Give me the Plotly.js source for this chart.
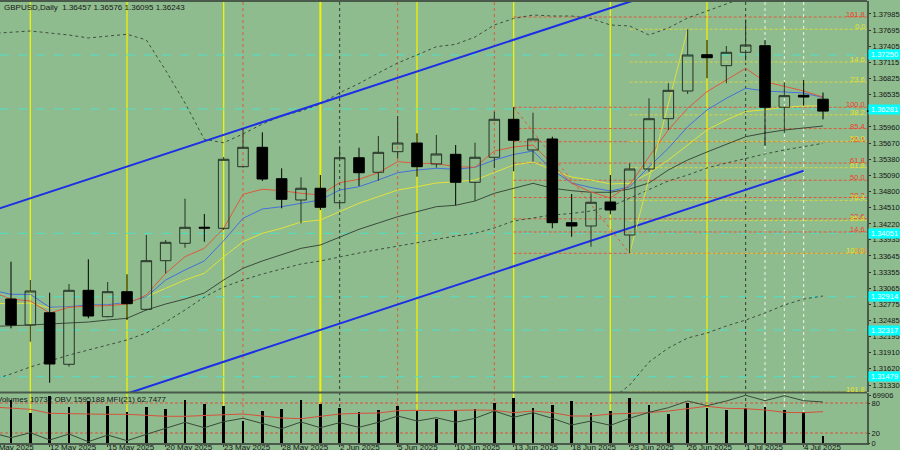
<!DOCTYPE html>
<html><head><meta charset="utf-8">
<script src="https://cdn.plot.ly/plotly-3.0.1.min.js"></script>
<style>html,body{margin:0;padding:0;background:#8fbc8f;}#chart{width:900px;height:450px;}</style>
</head><body><div id="chart"></div>
<script>
// ---------------- DATA ----------------
const symbol = 'GBPUSD';
const timeframe = 'Daily';
const categories = ['2025-05-07','2025-05-08','2025-05-09','2025-05-12','2025-05-13','2025-05-14','2025-05-15','2025-05-16','2025-05-19','2025-05-20','2025-05-21','2025-05-22','2025-05-23','2025-05-26','2025-05-27','2025-05-28','2025-05-29','2025-05-30','2025-06-02','2025-06-03','2025-06-04','2025-06-05','2025-06-06','2025-06-09','2025-06-10','2025-06-11','2025-06-12','2025-06-13','2025-06-16','2025-06-17','2025-06-18','2025-06-19','2025-06-20','2025-06-23','2025-06-24','2025-06-25','2025-06-26','2025-06-27','2025-06-30','2025-07-01','2025-07-02','2025-07-03','2025-07-04','2025-07-07'];
const openP  = [null,1.32873,1.32407,1.32627,1.31702,1.33029,1.32556,1.33004,1.32688,1.33560,1.33872,1.34160,1.34141,1.35246,1.35594,1.35031,1.34649,1.34859,1.34600,1.35407,1.35146,1.35515,1.35671,1.35294,1.35468,1.34966,1.35415,1.36096,1.35546,1.35743,1.34242,1.34182,1.34613,1.34021,1.35205,1.36107,1.36604,1.37255,1.37058,1.37298,1.37416,1.36312,1.36527,1.36457];
const highP  = [null,1.33542,1.33214,1.32986,1.33142,1.33585,1.33178,1.33316,1.34021,1.33931,1.34672,1.34398,1.35420,1.35935,1.35863,1.35217,1.35056,1.35097,1.35587,1.35587,1.35797,1.36155,1.35845,1.35815,1.35635,1.35677,1.36233,1.36312,1.36215,1.35784,1.34756,1.34769,1.35097,1.35307,1.36473,1.36742,1.37711,1.37519,1.37411,1.37885,1.37519,1.36760,1.36801,1.36576];
const lowP   = [null,1.32347,1.32107,1.31372,1.31659,1.32527,1.32545,1.32496,1.32670,1.33334,1.33793,1.33901,1.34111,1.35230,1.34990,1.34500,1.34231,1.34469,1.34529,1.34900,1.34995,1.35397,1.35067,1.35228,1.34554,1.34636,1.35223,1.35164,1.35336,1.34141,1.33990,1.33811,1.34392,1.33693,1.35156,1.35904,1.36550,1.36832,1.36742,1.37150,1.35623,1.35856,1.36340,1.36095];
const closeP = [null,1.32407,1.33017,1.31707,1.33029,1.32568,1.33004,1.32789,1.33560,1.33890,1.34159,1.34145,1.35379,1.35594,1.35025,1.34661,1.34859,1.34518,1.35407,1.35138,1.35504,1.35671,1.35246,1.35474,1.34966,1.35415,1.36096,1.35720,1.35743,1.34242,1.34182,1.34608,1.34469,1.35205,1.36107,1.36616,1.37250,1.37201,1.37298,1.37429,1.36312,1.36520,1.36496,1.36243];

const maRed    = [1.32999,1.32873,1.32837,1.32622,1.32724,1.32747,1.32753,1.32783,1.32945,1.33334,1.33632,1.33782,1.34141,1.34751,1.34841,1.34816,1.34769,1.34738,1.34959,1.35020,1.35138,1.35336,1.35307,1.35303,1.35246,1.35235,1.35528,1.35599,1.35635,1.35294,1.34948,1.34792,1.34685,1.34918,1.35425,1.35904,1.36294,1.36591,1.36801,1.37011,1.36771,1.36693,1.36604,1.36495];
const maBlue   = [1.33034,1.32957,1.32957,1.32724,1.32735,1.32765,1.32771,1.32814,1.32914,1.33214,1.33393,1.33555,1.33919,1.34320,1.34487,1.34529,1.34590,1.34649,1.34828,1.34887,1.35007,1.35138,1.35187,1.35217,1.35199,1.35235,1.35366,1.35465,1.35528,1.35187,1.34954,1.34873,1.34810,1.34882,1.35246,1.35576,1.35964,1.36263,1.36473,1.36652,1.36604,1.36591,1.36568,1.36488];
const maYellow = [1.32801,1.32783,1.32801,1.32712,1.32729,1.32747,1.32765,1.32819,1.32914,1.33065,1.33214,1.33334,1.33632,1.33901,1.34051,1.34141,1.34254,1.34290,1.34439,1.34590,1.34708,1.34828,1.34887,1.34954,1.34977,1.35007,1.35142,1.35277,1.35330,1.35187,1.35061,1.35007,1.34936,1.34948,1.35128,1.35366,1.35635,1.35904,1.36084,1.36236,1.36268,1.36311,1.36335,1.36335];
const maGray   = [1.32380,1.32389,1.32407,1.32425,1.32442,1.32460,1.32496,1.32527,1.32676,1.32783,1.32873,1.32981,1.33214,1.33424,1.33555,1.33662,1.33782,1.33842,1.33980,1.34123,1.34236,1.34349,1.34439,1.34529,1.34554,1.34631,1.34769,1.34859,1.34948,1.34859,1.34816,1.34787,1.34787,1.34846,1.34954,1.35187,1.35366,1.35510,1.35653,1.35784,1.35850,1.35904,1.35940,1.35976];
const maLong   = [1.31420,1.31528,1.31653,1.31761,1.31868,1.31958,1.32048,1.32138,1.32263,1.32460,1.32676,1.32909,1.33088,1.33214,1.33321,1.33411,1.33501,1.33555,1.33632,1.33698,1.33761,1.33824,1.33886,1.33949,1.34003,1.34051,1.34147,1.34272,1.34326,1.34380,1.34407,1.34451,1.34529,1.34679,1.34828,1.34990,1.35097,1.35223,1.35312,1.35397,1.35474,1.35546,1.35608,1.35666];
const bandUpper = [1.37635,1.37653,1.37680,1.37644,1.37608,1.37555,1.37590,1.37621,1.37519,1.36973,1.36389,1.35737,1.35676,1.35833,1.36012,1.36155,1.36245,1.36371,1.36573,1.36738,1.36927,1.37106,1.37250,1.37398,1.37441,1.37572,1.37788,1.37904,1.37967,1.37949,1.37949,1.37904,1.37788,1.37770,1.37608,1.37734,1.37913,1.38039,1.38164,1.38290,1.38380,1.38416,1.38451,1.38469];
const bandLower = [null,null,null,null,null,null,null,null,null,null,null,null,null,null,null,null,null,null,null,null,null,null,null,null,null,null,null,null,null,null,null,null,1.31061,1.31330,1.31743,1.31994,1.32173,1.32263,1.32389,1.32496,1.32622,1.32765,1.32873,1.32927];

const volumes = [null,63550,44340,69906,53200,62070,54680,45810,53200,50250,63550,57640,54680,32510,47290,50250,63550,57640,51730,45810,48770,54680,47290,35470,48770,50250,59120,66510,51730,56160,62070,44340,47290,66510,56160,42860,59120,51730,48770,51730,53200,48770,45810,10732];
const obv = [1318900,1273900,1318900,1253200,1307200,1237900,1298200,1246900,1304500,1358500,1412500,1363900,1417900,1448500,1403500,1354900,1415200,1363900,1408900,1367500,1412500,1469200,1424200,1453900,1412500,1448500,1514200,1457500,1498900,1448500,1388200,1424200,1385500,1448500,1502500,1543900,1604200,1561900,1604200,1655500,1606900,1651900,1606900,1595188];
const mfi = [72,70,67.4,59.4,58,58,57.4,57.4,55.4,53.4,53.4,54.6,56,58,54,50,48.6,54,58,59.4,60,64.6,65.4,64.6,66,66,65.4,60.6,64,60.6,54,54,58,59.4,60.6,64,68.6,73.4,69.4,68.6,66,61.4,60.6,62.7477];
const mfiPeriod = 21;
const mfiLevels = [20, 80];

const tickDates  = ['2025-05-07','2025-05-12','2025-05-15','2025-05-20','2025-05-23','2025-05-28','2025-06-02','2025-06-05','2025-06-10','2025-06-13','2025-06-18','2025-06-23','2025-06-26','2025-07-01','2025-07-04'];
const tickLabels = ['7 May 2025','12 May 2025','15 May 2025','20 May 2025','23 May 2025','28 May 2025','2 Jun 2025','5 Jun 2025','10 Jun 2025','13 Jun 2025','18 Jun 2025','23 Jun 2025','26 Jun 2025','1 Jul 2025','4 Jul 2025'];
const priceTicks = [1.37985,1.37695,1.37405,1.37115,1.36825,1.36535,1.35960,1.35670,1.35380,1.35090,1.34800,1.34510,1.34220,1.33935,1.33645,1.33355,1.33065,1.32775,1.32485,1.32195,1.31910,1.31620,1.31330];
const volumeMaxLabel = 69906;

const cyanLevels = [1.37250,1.36281,1.34051,1.32914,1.32317,1.31479];
const channelUpperDates = ['2025-05-07','2025-06-26'];
const channelUpperPrices = [1.34453,1.38545];
const channelLowerDates = ['2025-05-16','2025-07-04'];
const channelLowerPrices = [1.31176,1.35174];

const fibLevels = [0,14.6,23.6,38.2,50,61.8,76.4,85.4,100,161.8];
const redFibHighDate = '2025-06-13', redFibLowDate = '2025-06-23';
const yellowFibLowDate = '2025-06-23', yellowFibHighDate = '2025-06-26';

const fridayLines = ['2025-05-09','2025-05-16','2025-05-23','2025-05-30','2025-06-06','2025-06-13','2025-06-20','2025-06-27'];
const redVLines   = ['2025-05-26','2025-06-05','2025-06-12'];
const darkVLines  = ['2025-06-02','2025-07-01'];
const whiteVLines = ['2025-07-02','2025-07-03','2025-07-04'];

// ---------------- CHART ----------------
const BG = '#8fbc8f';
const AX = '#4a5a4a';
const TXT = '#151515';
const idx = d => categories.indexOf(d);
const last = categories.length - 1;
const mainRange = [1.31205, 1.38218];
const xRange = [0.431, 45.276];
const fmt = v => v.toFixed(5);

const redHi = highP[idx(redFibHighDate)], redLo = lowP[idx(redFibLowDate)];
const yelLo = lowP[idx(yellowFibLowDate)], yelHi = highP[idx(yellowFibHighDate)];

const line = (y, color, dash, width, yaxis) => ({
  type:'scatter', mode:'lines', x:categories, y:y, yaxis:yaxis||'y',
  line:{color:color, width:width||1, dash:dash||'solid'}, hoverinfo:'skip', connectgaps:false
});

const traces = [
  line(bandUpper, '#3e4e3e', 'dot', 1),
  line(bandLower, '#3e4e3e', 'dot', 1),
  line(maLong, '#3e4e3e', 'dot', 1),
  line(maGray, '#3a4a3a', 'solid', 1),
  line(maYellow, '#e2e23c', 'solid', 1),
  line(maBlue, '#4470dc', 'solid', 1),
  line(maRed, '#dc5a3c', 'solid', 1),
  {type:'scatter', mode:'lines', x:channelUpperDates, y:channelUpperPrices, line:{color:'#1c2ee6', width:2}, hoverinfo:'skip'},
  {type:'scatter', mode:'lines', x:channelLowerDates, y:channelLowerPrices, line:{color:'#1c2ee6', width:2}, hoverinfo:'skip'},
  {type:'scatter', mode:'lines', x:[redFibHighDate, redFibLowDate], y:[redHi, redLo], line:{color:'#dc5a3c', width:1, dash:'dot'}, hoverinfo:'skip'},
  {type:'scatter', mode:'lines', x:[yellowFibLowDate, yellowFibHighDate], y:[yelLo, yelHi], line:{color:'#dede40', width:1}, hoverinfo:'skip'},
  {type:'candlestick', x:categories, open:openP, high:highP, low:lowP, close:closeP, yaxis:'y3',
   increasing:{line:{color:'#263326', width:1}, fillcolor:'rgba(0,0,0,0)'},
   decreasing:{line:{color:'#000000', width:1}, fillcolor:'#000000'},
   whiskerwidth:0, hoverinfo:'skip'},
  {type:'bar', x:categories, y:volumes, yaxis:'y2', marker:{color:'#000000', line:{width:0}}, width:0.13, hoverinfo:'skip'},
  {type:'scatter', mode:'lines', x:categories, y:mfi, yaxis:'y4', line:{color:'#d8503a', width:1}, hoverinfo:'skip'},
  {type:'scatter', mode:'lines', x:categories, y:obv, yaxis:'y5', line:{color:'#3a4a3a', width:1}, hoverinfo:'skip'}
];

const shapes = [];
const vline = (d, color, width, dash) => shapes.push({type:'line', xref:'x', yref:'paper', x0:idx(d), x1:idx(d), y0:0, y1:1, layer:'below', line:{color:color, width:width, dash:dash}});
fridayLines.forEach(d => vline(d, '#f2f200', d === '2025-05-30' ? 2 : 1.3, 'solid'));
redVLines.forEach(d => vline(d, '#dc5a3c', 1, 'dot'));
darkVLines.forEach(d => vline(d, '#333833', 1, 'dot'));
whiteVLines.forEach(d => vline(d, '#eef4ee', 1, 'dot'));

cyanLevels.forEach(v => shapes.push({type:'line', xref:'paper', yref:'y', x0:0, x1:1, y0:v, y1:v, layer:'below', line:{color:'#4fe0c8', width:1, dash:'dash'}}));

const annotations = [];
fibLevels.forEach(l => {
  const y = redLo + l/100*(redHi - redLo);
  shapes.push({type:'line', xref:'x', yref:'y', x0:idx(redFibHighDate), x1:60, y0:y, y1:y, layer:'below', line:{color:'#dc5a3c', width:1, dash:'3px,2px'}});
  annotations.push({xref:'paper', yref:'y', x:1, y:y, xanchor:'right', yanchor:'middle', yshift:2.5, xshift:-1, text:l.toFixed(1), showarrow:false, borderpad:0, font:{size:7.5, color:'#f03c2a'}});
});
fibLevels.forEach(l => {
  const y = yelHi - l/100*(yelHi - yelLo);
  shapes.push({type:'line', xref:'x', yref:'y', x0:idx(yellowFibLowDate), x1:60, y0:y, y1:y, layer:'below', line:{color:'#d6d640', width:1, dash:'3px,2px'}});
  annotations.push({xref:'paper', yref:'y', x:1, y:y, xanchor:'right', yanchor:'middle', yshift:2.5, xshift:-1, text:l.toFixed(1), showarrow:false, borderpad:0, font:{size:7.5, color:'#e4e42a'}});
});
mfiLevels.forEach(v => shapes.push({type:'line', xref:'paper', yref:'y4', x0:0, x1:1, y0:v, y1:v, layer:'below', line:{color:'#d8503a', width:1, dash:'3px,2px'}}));

// borders
shapes.push({type:'line', xref:'paper', yref:'paper', x0:0, x1:1, y0:1, y1:1, line:{color:AX, width:2}});
shapes.push({type:'line', xref:'paper', yref:'paper', x0:0, x1:1, y0:0.1143, y1:0.1143, line:{color:AX, width:2}});
// bid marker on axis
shapes.push({type:'line', xref:'paper', yref:'y', x0:1, x1:1.04, y0:closeP[last], y1:closeP[last], line:{color:'#000000', width:2}});

cyanLevels.forEach(v => annotations.push({xref:'paper', yref:'y', x:1, y:v, xanchor:'left', yanchor:'middle', xshift:1, text:fmt(v), showarrow:false, bgcolor:'#00ffff', width:31, borderpad:0, font:{size:7.5, color:'#ffffff'}}));

annotations.push({xref:'paper', yref:'paper', x:0, y:1, xanchor:'left', yanchor:'top', xshift:2, yshift:0,
  text:symbol + ',' + timeframe + '  ' + [openP[last], highP[last], lowP[last], closeP[last]].map(fmt).join(' '),
  showarrow:false, font:{size:8, color:TXT}});
annotations.push({xref:'paper', yref:'paper', x:0, y:0.113, xanchor:'left', yanchor:'top', xshift:-5, yshift:0,
  text:'Volumes ' + volumes[last] + ' OBV ' + obv[last] + ' MFI(' + mfiPeriod + ') ' + mfi[last].toFixed(4),
  showarrow:false, font:{size:8, color:TXT}});

// date labels, left-aligned at their bar like the terminal draws them
tickDates.forEach((d, k) => {
  const i = idx(d);
  const frac = (i - xRange[0]) / (xRange[1] - xRange[0]);
  annotations.push({xref:'paper', yref:'paper', x:frac, y:0, xanchor:'left', yanchor:'top', xshift:-1, yshift:1,
    borderpad:0, text:tickLabels[k], showarrow:false, font:{size:8, color:TXT}});
});

const layout = {
  width:900, height:450,
  margin:{l:0, r:33, t:1, b:7, pad:0},
  paper_bgcolor:BG, plot_bgcolor:BG,
  font:{family:'Liberation Sans, Arial, sans-serif', size:8, color:TXT},
  showlegend:false,
  boxgap:0.22, bargap:0,
  xaxis:{type:'category', range:xRange, anchor:'y2', tickmode:'array', tickvals:tickDates, showticklabels:false,
    ticks:'outside', ticklen:2, tickcolor:'#333',
    showline:true, linecolor:AX, linewidth:2, showgrid:false, zeroline:false, fixedrange:true, rangeslider:{visible:false}},
  yaxis:{domain:[0.11538, 1], range:mainRange, side:'right', anchor:'x', tickmode:'array', tickvals:priceTicks, ticktext:priceTicks.map(fmt),
    tickfont:{size:7.5}, ticks:'outside', ticklen:2, tickcolor:'#333', showline:true, linecolor:AX, linewidth:2, showgrid:false, zeroline:false, fixedrange:true},
  yaxis3:{overlaying:'y', range:mainRange, visible:false, fixedrange:true},
  yaxis2:{domain:[0, 0.11312], range:[0, 73897], side:'right', anchor:'x', tickmode:'array', tickvals:[volumeMaxLabel], ticktext:[String(volumeMaxLabel)],
    tickfont:{size:7.5}, ticks:'outside', ticklen:2, tickcolor:'#333', showline:true, linecolor:AX, linewidth:2, showgrid:false, zeroline:false, fixedrange:true},
  yaxis4:{overlaying:'y2', range:[0, 100], side:'right', tickmode:'array', tickvals:[0, 20, 80], ticktext:['0','20','80'],
    tickfont:{size:7.5}, ticks:'outside', ticklen:2, tickcolor:'#333', showgrid:false, zeroline:false, fixedrange:true},
  yaxis5:{overlaying:'y2', range:[1226188, 1676188], visible:false, fixedrange:true},
  shapes:shapes, annotations:annotations
};

Plotly.newPlot('chart', traces, layout, {staticPlot:true, displayModeBar:false});
</script></body></html>
